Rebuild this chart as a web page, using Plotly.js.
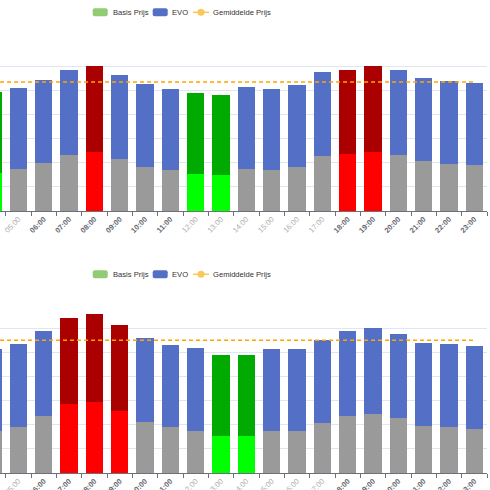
<!DOCTYPE html>
<html>
<head>
<meta charset="utf-8">
<script src="https://cdn.plot.ly/plotly-3.0.1.min.js"></script>
<style>
html,body{margin:0;padding:0;width:490px;height:490px;overflow:hidden;background:#fff;}
#c1{position:absolute;left:0;top:0;width:490px;height:262px;}
#c2{position:absolute;left:0;top:262px;width:490px;height:262px;}
</style>
</head>
<body>
<div id="c1"></div>
<div id="c2"></div>
<script>
const hours = ['04:00','05:00','06:00','07:00','08:00','09:00','10:00','11:00','12:00','13:00',
               '14:00','15:00','16:00','17:00','18:00','19:00','20:00','21:00','22:00','23:00'];
const boldHours = ['06:00','07:00','08:00','09:00','10:00','11:00','18:00','19:00','20:00','21:00','22:00','23:00'];
const legendNames = ['Basis Prijs','EVO','Gemiddelde Prijs'];

const topBasis = [0.079,0.086,0.100,0.117,0.123,0.108,0.092,0.084,0.077,0.074,
                  0.088,0.084,0.091,0.113,0.118,0.123,0.116,0.104,0.098,0.095];
const topEvo   = [0.168,0.169,0.172,0.176,0.178,0.174,0.171,0.168,0.168,0.167,
                  0.169,0.168,0.170,0.175,0.175,0.178,0.175,0.172,0.172,0.171];
const topAvg = 0.267;
const topCheap = ['04:00','12:00','13:00'];
const topExpensive = ['08:00','18:00','19:00'];

const bottomBasis = [0.086,0.096,0.119,0.142,0.147,0.128,0.106,0.095,0.088,0.077,
                     0.077,0.086,0.087,0.104,0.119,0.123,0.113,0.097,0.096,0.092];
const bottomEvo   = [0.171,0.171,0.176,0.180,0.183,0.178,0.173,0.171,0.170,0.167,
                     0.168,0.170,0.170,0.172,0.176,0.178,0.175,0.172,0.172,0.171];
const bottomAvg = 0.275;
const bottomCheap = ['13:00','14:00'];
const bottomExpensive = ['07:00','08:00','09:00'];

const FONT = 'Liberation Sans, Arial, sans-serif';
const PLOT_W = 487, PLOT_H = 169, PLOT_T = 42;

function tickText(h){
  return boldHours.includes(h) ? '<b>'+h+'</b>' : '<span style="color:#adadad">'+h+'</span>';
}
function px2x(px){ return px / PLOT_W; }
function px2y(py){ return (PLOT_T + PLOT_H - py) / PLOT_H; }

function legendDecor(){
  const cy = px2y(12.3);
  const rr = (x0, color) => ({
    type:'path', xref:'paper', yref:'paper', xsizemode:'pixel', ysizemode:'pixel',
    xanchor:px2x(x0), yanchor:cy,
    path:'M2,-4 H13 Q15,-4 15,-2 V2 Q15,4 13,4 H2 Q0,4 0,2 V-2 Q0,-4 2,-4 Z',
    fillcolor:color, line:{width:0}
  });
  const shapes = [
    rr(92.7, '#91cc75'),
    rr(152.7, '#5470c6'),
    {type:'line', xref:'paper', yref:'paper', xsizemode:'pixel', ysizemode:'pixel',
     xanchor:px2x(193), yanchor:cy, x0:0, x1:16, y0:0, y1:0, line:{color:'#fac858', width:1.5}},
    {type:'circle', xref:'paper', yref:'paper', xsizemode:'pixel', ysizemode:'pixel',
     xanchor:px2x(201), yanchor:cy, x0:-3.5, x1:3.5, y0:-3.5, y1:3.5,
     fillcolor:'#fac858', line:{color:'#fac858', width:0}}
  ];
  const textX = [111.5, 171.3, 212];
  const annotations = legendNames.map((t, i) => ({
    text:t, xref:'paper', yref:'paper', x:px2x(textX[i]), y:cy, xanchor:'left', yanchor:'middle',
    showarrow:false, font:{family:FONT, size:7.6, color:'#333'}, borderpad:0
  }));
  return {shapes, annotations};
}

function draw(id, basis, evo, avg, cheap, expensive){
  const basisColors = hours.map(h => cheap.includes(h) ? '#00ff00' : (expensive.includes(h) ? '#ff0000' : '#9a9a9a'));
  const evoColors = hours.map(h => cheap.includes(h) ? '#00aa00' : (expensive.includes(h) ? '#aa0000' : '#5470c6'));
  const traces = [
    {type:'bar', x:hours, y:basis, name:legendNames[0], marker:{color:basisColors}, hoverinfo:'skip'},
    {type:'bar', x:hours, y:evo, name:legendNames[1], marker:{color:evoColors}, hoverinfo:'skip'},
    {type:'scatter', mode:'lines', x:hours, y:hours.map(() => avg), name:legendNames[2],
     line:{color:'#ffa500', width:1.5, dash:'4px,3px'}, hoverinfo:'skip'}
  ];
  const deco = legendDecor();
  const layout = {
    width:490, height:262,
    margin:{l:0, r:3, t:42, b:51},
    paper_bgcolor:'#fff', plot_bgcolor:'#fff',
    barmode:'stack', bargap:0.32,
    font:{family:FONT, color:'#6e7079'},
    showlegend:false,
    shapes:deco.shapes, annotations:deco.annotations,
    xaxis:{type:'category', range:[0.274, 19.5], tickmode:'array', tickvals:hours,
           ticktext:hours.map(tickText), tickangle:-45, tickfont:{family:FONT, size:7.5, color:'#666a72'},
           showline:true, linecolor:'#6e7079', linewidth:1, ticks:'outside', ticklen:4,
           tickcolor:'#6e7079', tickson:'boundaries', showgrid:false, zeroline:false, fixedrange:true},
    yaxis:{range:[0,0.35], dtick:0.05, showticklabels:false, gridcolor:'#e0e6f1', gridwidth:1,
           zeroline:false, showline:false, fixedrange:true}
  };
  Plotly.newPlot(id, traces, layout, {displayModeBar:false, staticPlot:true});
}

draw('c1', topBasis, topEvo, topAvg, topCheap, topExpensive);
draw('c2', bottomBasis, bottomEvo, bottomAvg, bottomCheap, bottomExpensive);
</script>
</body>
</html>
